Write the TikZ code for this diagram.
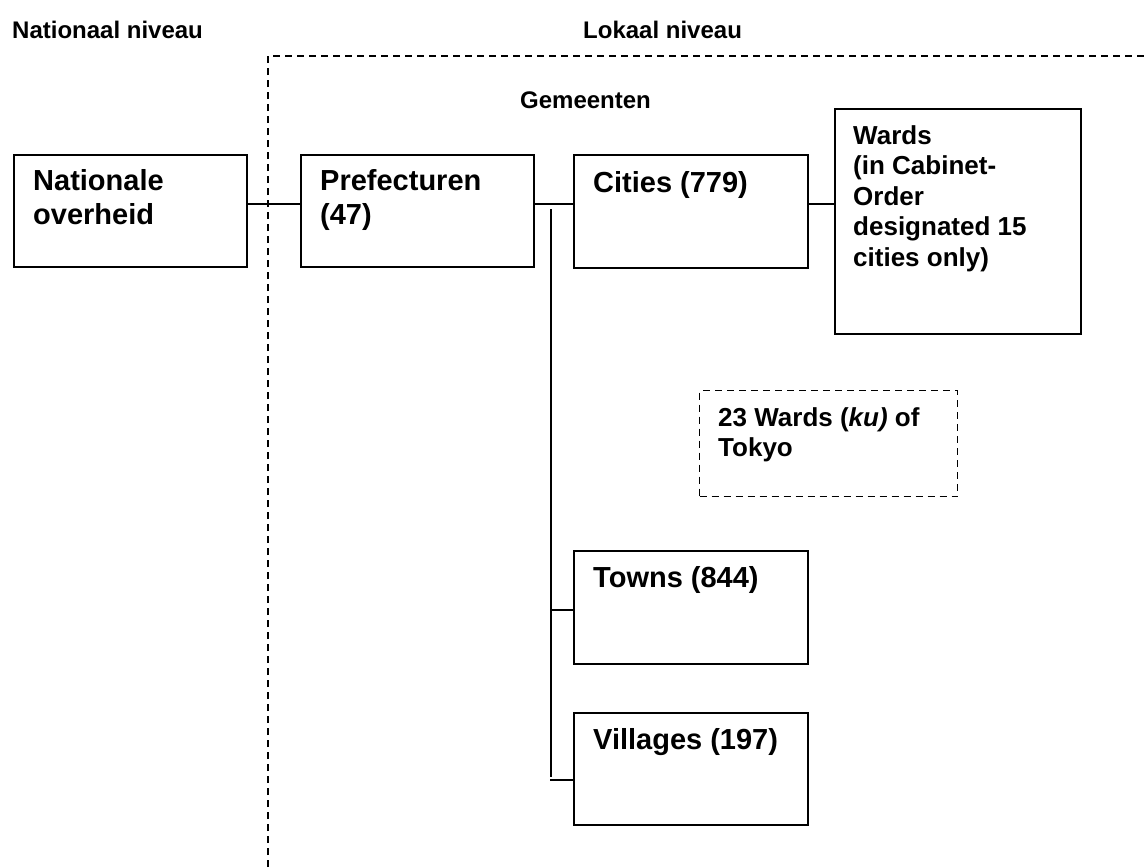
\documentclass[tikz,border=0pt]{standalone}
\usepackage{fontspec}
\setmainfont{Liberation Sans}
\usetikzlibrary{calc}
\begin{document}
\begin{tikzpicture}[x=1pt,y=-1pt,
  box/.style={draw=black, line width=2pt, rectangle, anchor=north west, inner sep=0pt},
  dbox/.style={draw=black, line width=1.3pt, dash pattern=on 7pt off 5pt, rectangle, anchor=north west, inner sep=0pt},
  big/.style={anchor=north west, inner sep=0pt, align=left, font=\fontsize{29}{34}\selectfont\bfseries},
  small/.style={anchor=north west, inner sep=0pt, align=left, font=\fontsize{26}{30.5}\selectfont\bfseries},
  hdr/.style={anchor=base west, inner sep=0pt, font=\fontsize{24}{30}\selectfont\bfseries},
  conn/.style={draw=black, line width=1.3pt},
  dline/.style={draw=black, line width=1.3pt, dash pattern=on 7pt off 5pt}]
\useasboundingbox (0,0) rectangle (1145,867);
% headers
\node[hdr] (hnat) at (12,38) {Nationaal niveau};
\node[hdr] (hlok) at (583,38) {Lokaal niveau};
\node[hdr] (hgem) at (520,108) {Gemeenten};
% dashed boundary
\coordinate (dtop) at (268,56);
\coordinate (dbot) at (268,867);
\coordinate (dright) at (1145,56);
\draw[dline] (dbot) -- (dtop) -- (dright);
% boxes
\node[box, minimum width=233pt, minimum height=112pt] (nat) at (13,154) {};
\node[box, minimum width=233pt, minimum height=112pt] (pref) at (300,154) {};
\node[box, minimum width=234pt, minimum height=113pt] (cities) at (573,154) {};
\node[box, minimum width=246pt, minimum height=225pt] (wards) at (834,108) {};
\node[dbox, minimum width=258pt, minimum height=106pt] (tokyo) at (699,390) {};
\node[box, minimum width=234pt, minimum height=113pt] (towns) at (573,550) {};
\node[box, minimum width=234pt, minimum height=112pt] (villages) at (573,712) {};
% texts
\node[big] (tnat) at ($(nat.north west)+(20,15)$) {Nationale\\overheid};
\node[big] (tpref) at ($(pref.north west)+(20,15)$) {Prefecturen\\(47)};
\node[big] (tcities) at ($(cities.north west)+(20,17)$) {Cities (779)};
\node[small] (twards) at ($(wards.north west)+(19,17)$) {Wards\\(in Cabinet-\\Order\\designated 15\\cities only)};
\node[small] (ttokyo) at ($(tokyo.north west)+(19,17)$) {23 Wards (\textit{ku)} of\\Tokyo};
\node[big] (ttowns) at ($(towns.north west)+(20,16)$) {Towns (844)};
\node[big] (tvill) at ($(villages.north west)+(20,16)$) {Villages (197)};
% connectors
\coordinate (ytop) at (551,209);
\coordinate (ybot) at (551,777);
\draw[conn] (nat.east |- 0,204) -- (pref.west |- 0,204);
\draw[conn] (pref.east |- 0,204) -- (cities.west |- 0,204);
\draw[conn] (cities.east |- 0,204) -- (wards.west |- 0,204);
\draw[conn] (ytop) -- (ybot);
\coordinate (ta) at (550,610);
\coordinate (va) at (550,780);
\draw[conn] (ta) -- (towns.west |- ta);
\draw[conn] (va) -- (villages.west |- va);
\end{tikzpicture}
\end{document}
